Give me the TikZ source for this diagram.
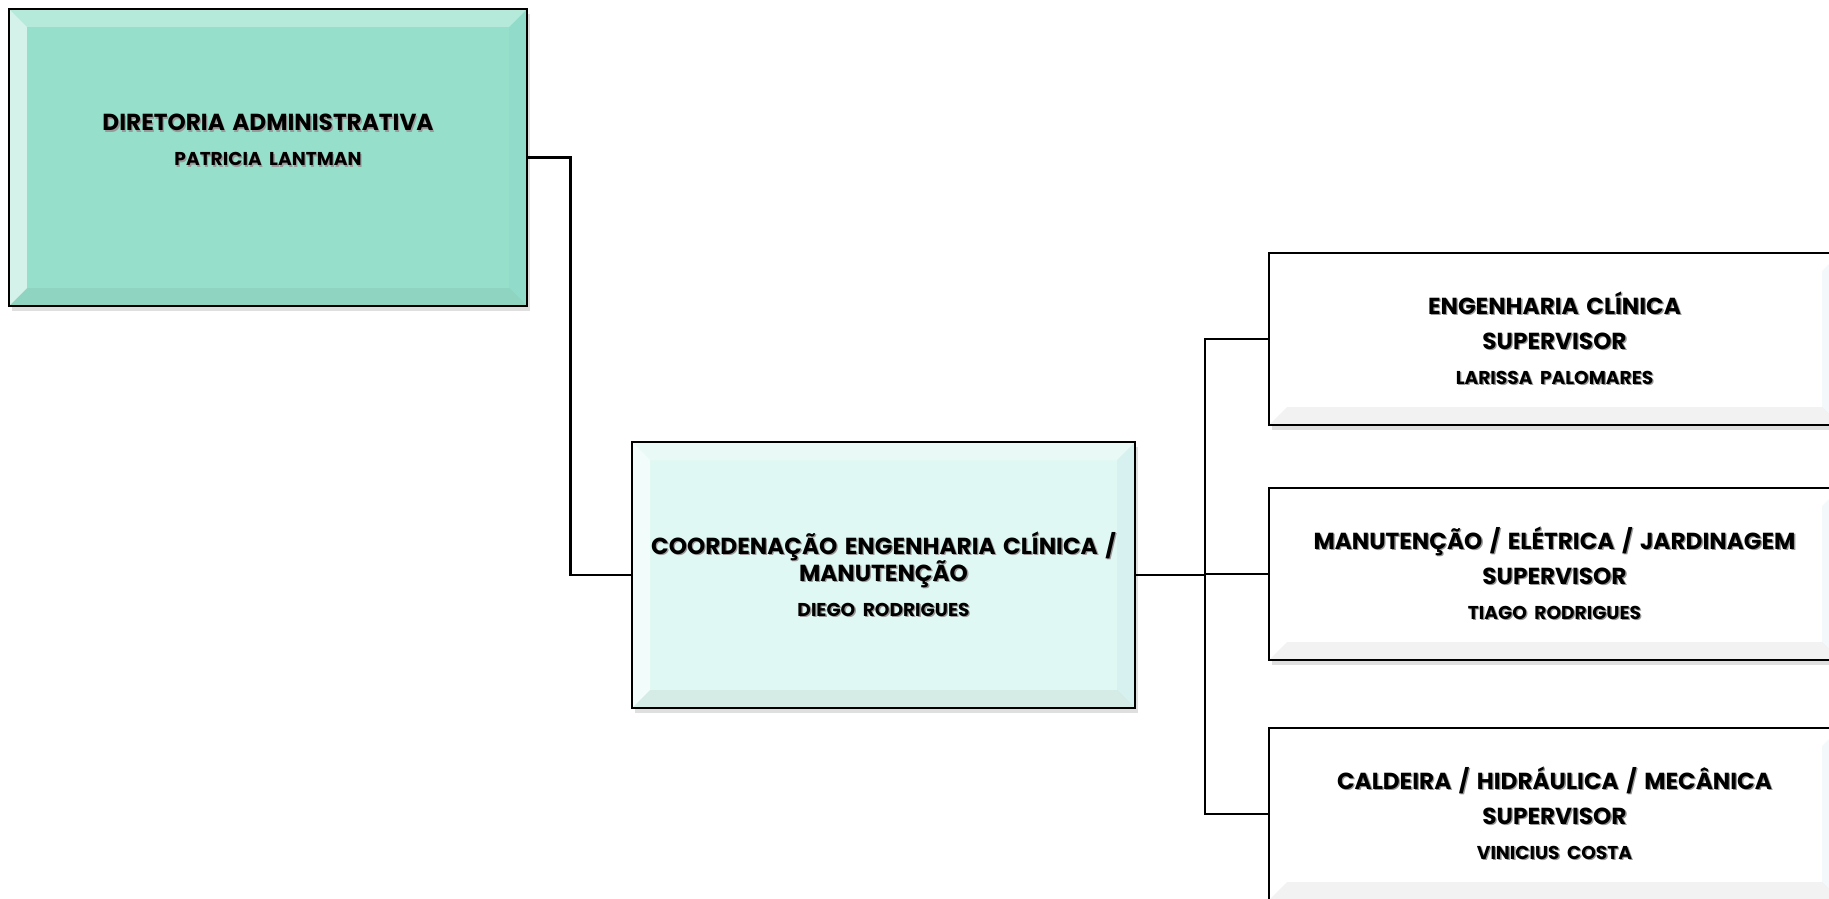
\documentclass[tikz,border=0pt]{standalone}
\usepackage{fontspec}
\setmainfont{Poppins}
\usetikzlibrary{shadows}

\definecolor{dirfill}{HTML}{96E0CB}
\definecolor{coordfill}{HTML}{E0F8F3}
% text with a small grey shadow
\newcommand{\sh}[1]{\leavevmode\rlap{\kern1.3bp\raisebox{-1.3bp}{\color{black!40}#1}}#1}
\newcommand{\pname}[1]{{\fontsize{18.6bp}{20bp}\selectfont\sh{#1}}}
\newcommand{\wordgap}{\spaceskip=7.5bp plus 2bp minus 2bp\relax}

\begin{document}
\begin{tikzpicture}[x=1bp, y=-1bp,
    box/.style={rectangle, draw=black, line width=2.4bp, align=center,
        font=\bfseries\fontsize{23.2bp}{35bp}\selectfont\wordgap,
        drop shadow={shadow xshift=3bp, shadow yshift=-5bp, opacity=.25},
        path picture={
            \path (path picture bounding box.north west) coordinate (bnw)
                  (path picture bounding box.north east) coordinate (bne)
                  (path picture bounding box.south west) coordinate (bsw)
                  (path picture bounding box.south east) coordinate (bse);
            \fill[white, opacity=.6] (bnw) -- ([shift={(18bp,-18bp)}]bnw) -- ([shift={(18bp,18bp)}]bsw) -- (bsw) -- cycle;
            \fill[white, opacity=.3] (bnw) -- ([shift={(18bp,-18bp)}]bnw) -- ([shift={(-18bp,-18bp)}]bne) -- (bne) -- cycle;
            \fill[black!30!cyan, opacity=.06] (bne) -- ([shift={(-18bp,-18bp)}]bne) -- ([shift={(-18bp,18bp)}]bse) -- (bse) -- cycle;
            \fill[black, opacity=.05] (bsw) -- ([shift={(18bp,18bp)}]bsw) -- ([shift={(-18bp,18bp)}]bse) -- (bse) -- cycle;
        }},
    dirbox/.style={box, fill=dirfill, minimum width=518bp, minimum height=297bp},
    coordbox/.style={box, fill=coordfill, minimum width=503bp, minimum height=266bp},
    supbox/.style={box, fill=white, minimum width=571bp, minimum height=172bp},
    link/.style={draw=black, line width=2.9bp}
]
    \useasboundingbox (0,0) rectangle (1829,899);
    \clip (0,0) rectangle (1829,899);

    % Diretoria
    \node[dirbox] (diretoria) at (268,157.5)
        {\sh{DIRETORIA ADMINISTRATIVA}\\ \pname{PATRICIA LANTMAN}\\ \mbox{}};

    % Coordenacao
    \node[coordbox] (coordenacao) at (883.5,575)
        {\sh{COORDENAÇÃO ENGENHARIA CLÍNICA /}\\[-8bp] \sh{MANUTENÇÃO}\\ \pname{DIEGO RODRIGUES}};

    % Supervisores
    \node[supbox] (clinica) at (1554.5,339)
        {\sh{ENGENHARIA CLÍNICA}\\ \sh{SUPERVISOR}\\ \pname{LARISSA PALOMARES}};
    \node[supbox] (manutencao) at (1554.5,574)
        {\sh{MANUTENÇÃO / ELÉTRICA / JARDINAGEM}\\ \sh{SUPERVISOR}\\ \pname{TIAGO RODRIGUES}};
    \node[supbox] (caldeira) at (1554.5,814)
        {\sh{CALDEIRA / HIDRÁULICA / MECÂNICA}\\ \sh{SUPERVISOR}\\ \pname{VINICIUS COSTA}};

    % Links
    \draw[link] (diretoria.east) -- ++(42,0) |- (coordenacao.west);
    \coordinate (trunk) at (1205,575);
    \draw[link] (coordenacao.east) -- (trunk);
    \draw[link] (trunk) |- (clinica.west);
    \draw[link] (trunk) |- (manutencao.west);
    \draw[link] (trunk) |- (caldeira.west);
\end{tikzpicture}
\end{document}
